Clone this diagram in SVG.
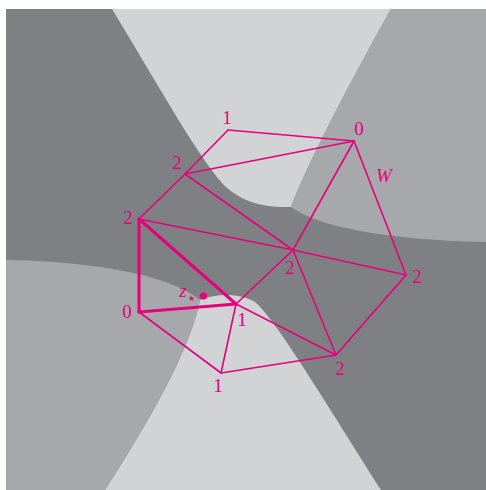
<svg xmlns="http://www.w3.org/2000/svg" width="486" height="490" viewBox="0 0 486 490">
<style>
.dark{fill:#7f8083}
.med{fill:#a7a8ab}
.light{fill:#d2d3d5}
.e{stroke:#e6007e;stroke-width:1.6;fill:none;stroke-linecap:round}
.t{stroke:#e6007e;stroke-width:3;fill:none;stroke-linecap:round}
text{font-family:"Liberation Serif","DejaVu Serif",serif;font-size:19px;fill:#e6007e;text-anchor:middle}
</style>
<rect width="486" height="490" fill="#ffffff"/>
<g id="regions">
<rect class="dark" x="6" y="9" width="480" height="481"/>
<path class="light" d="M112,9 C160,88 200,160 225,186 C240,200 260,208 291,207 C305,170 340,100 391,9 Z"/>
<path class="med" d="M391,9 C340,100 305,170 291,207 C315,225 380,240 486,242 L486,9 Z"/>
<path class="light" d="M200,300 C218,293 240,293 255,302 C275,318 330,410 381,490 L105,490 C150,420 190,350 200,300 Z"/>
<path class="med" d="M6,260 C90,261 170,275 200,300 C190,350 150,420 105,490 L6,490 Z"/>
</g>
<g id="connectors">
<line class="e" x1="228" y1="130" x2="354" y2="141"/>
<line class="e" x1="228" y1="130" x2="185" y2="174"/>
<line class="e" x1="185" y1="174" x2="354" y2="141"/>
<line class="e" x1="185" y1="174" x2="293" y2="250"/>
<line class="e" x1="139" y1="219" x2="185" y2="174"/>
<line class="e" x1="139" y1="219" x2="293" y2="250"/>
<line class="e" x1="293" y1="250" x2="406" y2="275"/>
<line class="e" x1="293" y1="250" x2="354" y2="141"/>
<line class="e" x1="293" y1="250" x2="236" y2="304"/>
<line class="e" x1="293" y1="250" x2="336" y2="355"/>
<line class="e" x1="354" y1="141" x2="406" y2="275"/>
<line class="e" x1="406" y1="275" x2="336" y2="355"/>
<line class="e" x1="236" y1="304" x2="336" y2="355"/>
<line class="e" x1="221" y1="373" x2="336" y2="355"/>
<line class="e" x1="236" y1="304" x2="221" y2="373"/>
<line class="e" x1="139" y1="312" x2="221" y2="373"/>
<line class="t" x1="139" y1="219" x2="139" y2="312"/>
<line class="t" x1="139" y1="219" x2="236" y2="304"/>
<line class="t" x1="139" y1="312" x2="236" y2="304"/>
</g>
<g id="vA"><text x="227" y="124">1</text></g>
<g id="vB"><text x="359" y="135">0</text></g>
<g id="vC"><text x="177" y="169">2</text></g>
<g id="vD"><text x="128" y="224">2</text></g>
<g id="vE"><text x="290" y="274">2</text></g>
<g id="vF"><text x="417" y="283">2</text></g>
<g id="vG"><text x="127" y="318">0</text></g>
<g id="vH"><text x="242" y="326">1</text></g>
<g id="vI"><text x="218" y="392">1</text></g>
<g id="vJ"><text x="340" y="375">2</text></g>
<g id="zstar">
<circle cx="203.5" cy="296" r="3.6" fill="#e6007e"/>
<text x="183" y="297" font-style="italic">z</text>
<text x="191.5" y="301" style="font-family:'DejaVu Sans',sans-serif;font-size:8px">★</text>
</g>
<g id="W"><text x="384" y="182" font-style="italic">W</text></g>
</svg>
